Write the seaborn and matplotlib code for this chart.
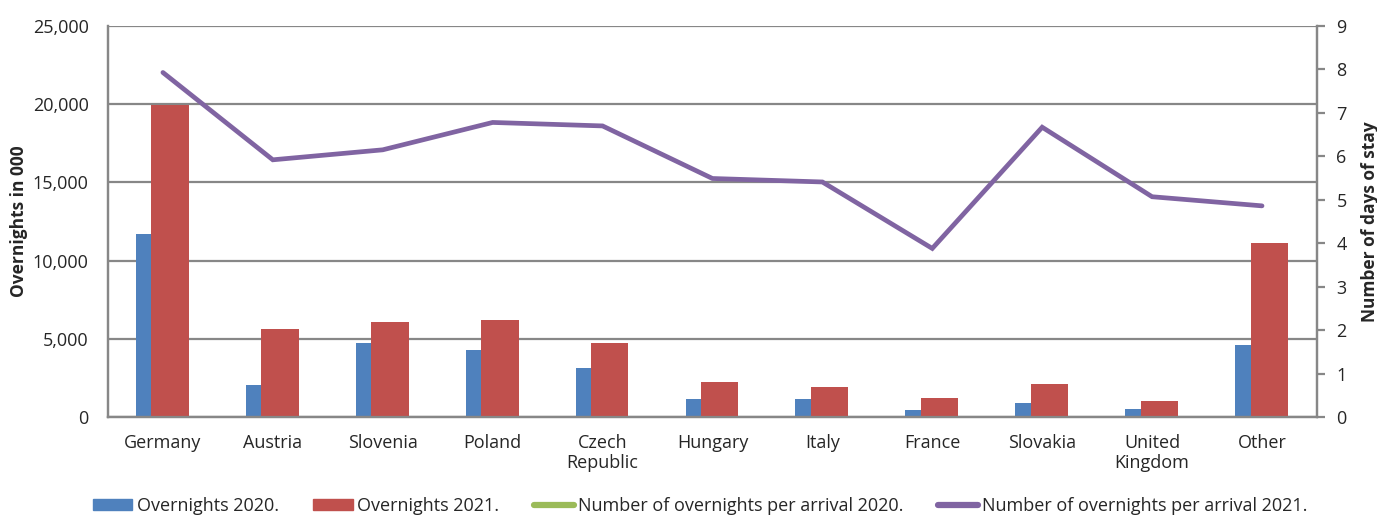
import numpy as np
import pandas as pd
import matplotlib
matplotlib.use("Agg")
import matplotlib.pyplot as plt
from matplotlib.lines import Line2D
from matplotlib.patches import Patch
from matplotlib.ticker import FuncFormatter
import seaborn as sns

sns.set_style("white")
plt.rcParams['font.family'] = ['Open Sans', 'DejaVu Sans']

countries = ["Germany", "Austria", "Slovenia", "Poland", "Czech\nRepublic", "Hungary",
             "Italy", "France", "Slovakia", "United\nKingdom", "Other"]
overnights_2020 = [11700, 2050, 4700, 4300, 3150, 1130, 1170, 470, 910, 530, 4600]
overnights_2021 = [19950, 5650, 6100, 6200, 4750, 2260, 1940, 1230, 2130, 1040, 11100]
per_arrival_2020 = [np.nan] * 11  # not shown in the chart
per_arrival_2021 = [7.93, 5.92, 6.15, 6.78, 6.70, 5.49, 5.41, 3.88, 6.67, 5.07, 4.86]

blue, red, green, purple = "#4F81BD", "#C0504D", "#9BBB59", "#8064A2"
grid_c = "#878787"

idx = np.arange(len(countries))
df = pd.DataFrame({"pos": idx, "o20": overnights_2020, "o21": overnights_2021,
                   "p20": per_arrival_2020, "p21": per_arrival_2021})

fig, ax = plt.subplots(figsize=(13.77, 5.15), dpi=100)
fig.subplots_adjust(left=0.0784, right=0.9564, top=0.9495, bottom=0.1903)

# overlapping clustered bars
sns.barplot(x=df["pos"] - 0.075, y=df["o20"], native_scale=True, width=0.34,
            color=blue, saturation=1, edgecolor="none", ax=ax, zorder=2)
sns.barplot(x=df["pos"] + 0.066, y=df["o21"], native_scale=True, width=0.34,
            color=red, saturation=1, edgecolor="none", ax=ax, zorder=3)

ax.set_xlim(-0.5, len(countries) - 0.5)
ax.set_ylim(0, 25000)
ax.set_yticks(range(0, 25001, 5000))
ax.yaxis.set_major_formatter(FuncFormatter(lambda v, p: f"{int(v):,}"))
ax.set_xticks(idx)
ax.set_xticklabels(countries, fontsize=13, linespacing=1.15)
ax.tick_params(axis="x", length=0, pad=12)
ax.tick_params(axis="y", length=0, pad=14, labelsize=13)
ax.yaxis.grid(True, color=grid_c, linewidth=1.6, zorder=0)
ax.set_axisbelow(True)
ax.set_xlabel("")
ax.set_ylabel("Overnights in 000", fontsize=12.5, fontweight="bold", labelpad=3)
ax.spines["top"].set_visible(False)
for s in ["left", "right", "bottom"]:
    ax.spines[s].set_color(grid_c)
    ax.spines[s].set_linewidth(1.6)

ax2 = ax.twinx()
sns.lineplot(x=df["pos"], y=df["p20"], color=green, linewidth=3.4, ax=ax2)
sns.lineplot(x=df["pos"], y=df["p21"], color=purple, linewidth=3.4, ax=ax2,
             solid_capstyle="round", solid_joinstyle="miter")
ax2.set_ylim(0, 9)
ax2.set_yticks(range(0, 10))
ax2.tick_params(axis="y", length=6, width=1.6, color=grid_c, pad=8, labelsize=13, direction="out")
ax2.set_ylabel("Number of days of stay", fontsize=12.5, fontweight="bold", labelpad=10)
ax2.set_xlabel("")
ax2.set_xlim(-0.5, len(countries) - 0.5)
ax2.spines["top"].set_visible(False)
for s in ["left", "right", "bottom"]:
    ax2.spines[s].set_color(grid_c)
    ax2.spines[s].set_linewidth(1.6)

handles = [Patch(color=blue), Patch(color=red),
           Line2D([], [], color=green, linewidth=4.5, solid_capstyle="round"),
           Line2D([], [], color=purple, linewidth=4.5, solid_capstyle="round")]
labels = ["Overnights 2020.", "Overnights 2021.",
          "Number of overnights per arrival 2020.", "Number of overnights per arrival 2021."]
fig.legend(handles, labels, loc="lower left", bbox_to_anchor=(0.058, -0.025), ncol=4,
           frameon=False, fontsize=13, handlelength=2.2, handleheight=0.55,
           handletextpad=0.25, columnspacing=1.9, borderaxespad=0.3)

fig.savefig("out.png", dpi=100)
